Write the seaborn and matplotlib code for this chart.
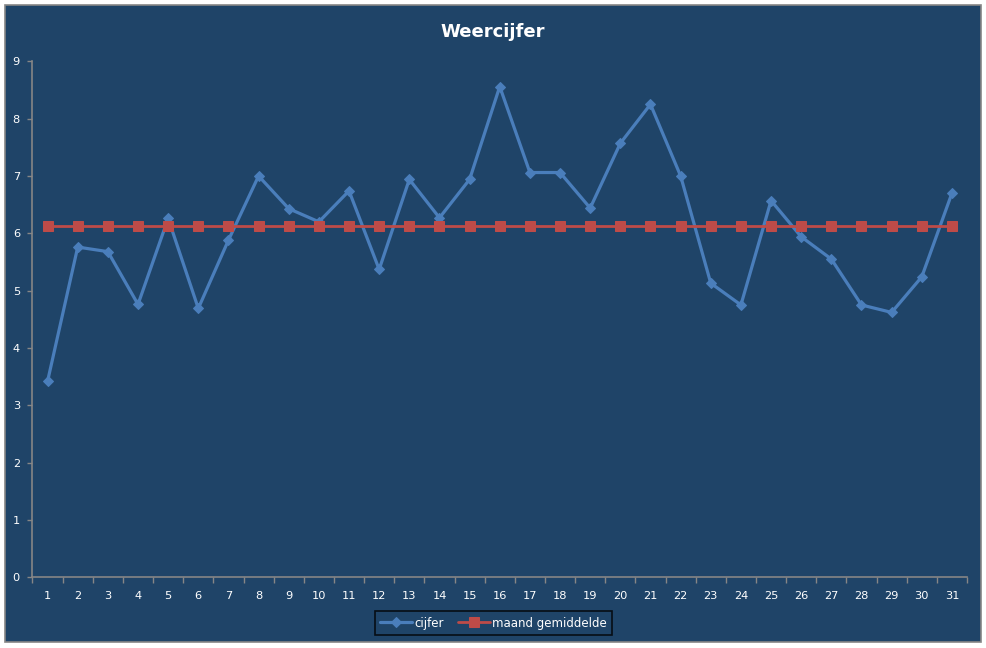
import matplotlib
matplotlib.use("Agg")
import matplotlib.pyplot as plt
import seaborn as sns
import pandas as pd
from matplotlib.patches import Rectangle
from matplotlib.ticker import MultipleLocator, FixedLocator

days = list(range(1, 32))
cijfer = [3.42, 5.76, 5.68, 4.76, 6.26, 4.69, 5.88, 7.00, 6.43, 6.20,
          6.74, 5.37, 6.94, 6.27, 6.94, 8.56, 7.06, 7.06, 6.44, 7.57,
          8.25, 7.00, 5.13, 4.75, 6.57, 5.94, 5.55, 4.75, 4.62, 5.24, 6.70]
gemiddelde = [6.12] * 31
title = "Weercijfer"
series_names = ["cijfer", "maand gemiddelde"]

BG = "#1F4468"
BLUE = "#4A7EBB"
RED = "#BE4B48"
GRID = "#868686"

sns.set_style("white")
plt.rcParams['font.family'] = ['DejaVu Sans']

W, H = 987, 648
fig = plt.figure(figsize=(W / 100, H / 100), dpi=100)
fig.patch.set_facecolor("white")
fig.patches.append(Rectangle((5 / W, 1 - 642 / H), (981 - 5) / W, (642 - 5) / H,
                             transform=fig.transFigure, facecolor=BG,
                             edgecolor=GRID, linewidth=1.2, zorder=-10))

left, right, top, bottom = 32.5, 967, 61.3, 577.3
ax = fig.add_axes([left / W, 1 - bottom / H, (right - left) / W, (bottom - top) / H])
ax.set_zorder(2)
ax.set_facecolor(BG)
ax.patch.set_alpha(0)

df = pd.DataFrame({"dag": days, "cijfer": cijfer, "gem": gemiddelde})
sns.lineplot(data=df, x="dag", y="cijfer", ax=ax, color=BLUE, linewidth=2.3,
             marker="D", markersize=5, markeredgecolor=BLUE, label=series_names[0])
sns.lineplot(data=df, x="dag", y="gem", ax=ax, color=RED, linewidth=2.0,
             marker="s", markersize=6.5, markeredgecolor=RED, label=series_names[1])

ax.set_xlim(0.5, 31.5)
ax.set_ylim(0, 9)
ax.set_xlabel("")
ax.set_ylabel("")
ax.set_xticks(days)
ax.set_xticklabels([str(d) for d in days])
ax.xaxis.set_minor_locator(FixedLocator([d + 0.5 for d in range(0, 32)]))
ax.yaxis.set_major_locator(MultipleLocator(1))
ax.tick_params(axis="x", which="major", bottom=True, length=0, pad=10,
               colors="white", labelsize=8.2)
ax.tick_params(axis="x", which="minor", bottom=True, length=4, width=1,
               color=GRID, direction="out")
ax.tick_params(axis="y", which="major", left=True, length=3.5, width=1, color=GRID,
               pad=5.5, labelcolor="white", labelsize=8.2, direction="out")
for s in ["top", "right"]:
    ax.spines[s].set_visible(False)
for s in ["left", "bottom"]:
    ax.spines[s].set_color(GRID)
    ax.spines[s].set_linewidth(1.2)
ax.grid(False)

fig.text(493 / W, 1 - 32 / H, title, ha="center", va="center", color="white",
         fontsize=13, fontweight="bold")

ax.get_legend().remove()
handles, labels = ax.get_legend_handles_labels()
leg = fig.legend(handles, labels, loc="center", ncol=2,
                 bbox_to_anchor=(493.7 / W, 1 - 623 / H), frameon=True,
                 fontsize=8.5, handlelength=2.7, columnspacing=1.2,
                 handletextpad=0.2, borderpad=0.45, fancybox=False)
leg.set_zorder(3)
leg.get_frame().set_facecolor(BG)
leg.get_frame().set_edgecolor("black")
leg.get_frame().set_linewidth(1.2)
for t in leg.get_texts():
    t.set_color("white")

fig.savefig("out.png", dpi=100, facecolor=fig.get_facecolor())
